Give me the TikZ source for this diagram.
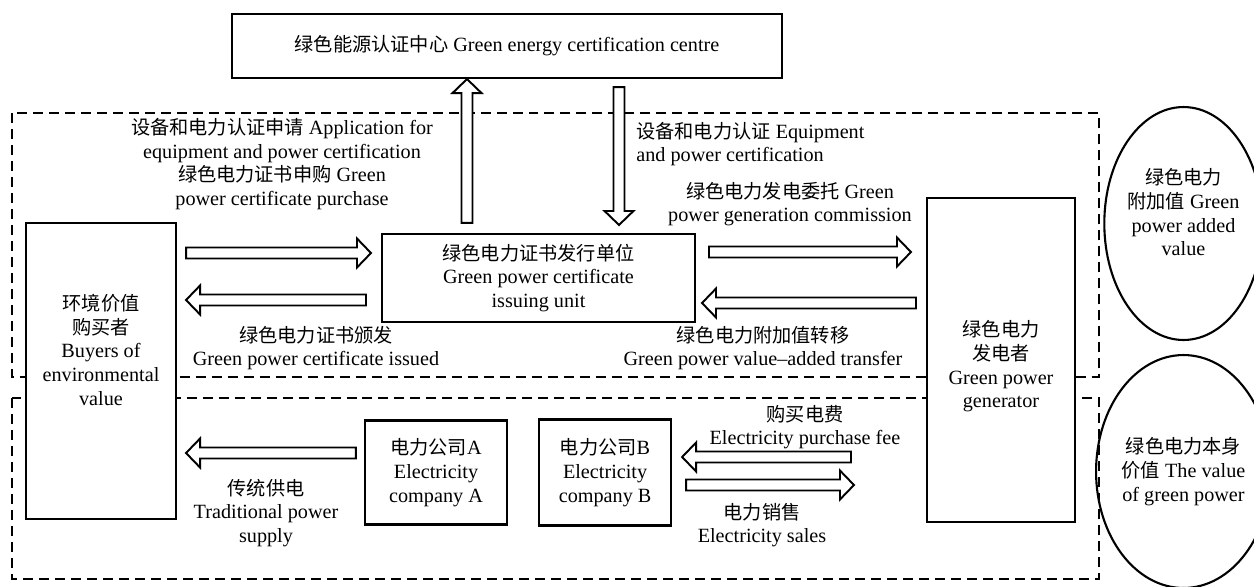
\documentclass[tikz,border=0pt]{standalone}
\usepackage{fontspec}
\setmainfont{Liberation Serif}
\newfontfamily\cjk[Scale=0.95]{Noto Sans CJK SC}
\newcommand{\zh}[1]{{\cjk #1}}
\usetikzlibrary{shapes.geometric,positioning,calc}

\begin{document}
\begin{tikzpicture}[x=0.02cm, y=-0.02cm,
    every node/.style={font=\fontsize{11.5}{13.5}\selectfont},
    box/.style={rectangle, draw, line width=1.2pt, fill=white, align=center, inner sep=2pt},
    valbox/.style={ellipse, draw, line width=1.2pt, align=center, inner sep=0pt,
        minimum width=2.82cm, minimum height=4.66cm},
    lbl/.style={align=center, inner sep=0pt},
    region/.style={line width=1.2pt, dash pattern=on 0.2cm off 0.12cm},
    hollow/.style={draw, line width=1.1pt, fill=white, line join=miter,
        to path={let \p1=(\tikztostart), \p2=(\tikztotarget),
            \p3=($(\p2)!0.28cm!(\p1)$) in
            ($(\p1)!0.11cm!90:(\p2)$) -- ($(\p3)!0.11cm!90:(\p2)$)
            -- ($(\p3)!0.29cm!90:(\p2)$) -- (\p2)
            -- ($(\p3)!0.29cm!-90:(\p2)$) -- ($(\p3)!0.11cm!-90:(\p2)$)
            -- ($(\p1)!0.11cm!-90:(\p2)$) -- cycle}}]

    \useasboundingbox (0,0) rectangle (1254,586);

    %-----Regions-----
    \draw[region] (12,113) rectangle (1099,377);
    \draw[region] (12,398) rectangle (1099,579);

    %-----Boxes-----
    % Certification centre
    \node [box, minimum width=11cm, minimum height=1.28cm] (centre) at (507,46) {%
        \zh{绿色能源认证中心} Green energy certification centre};

    % Buyers of environmental value
    \node [box, minimum width=3cm, minimum height=5.92cm, text depth=0.85cm] (buyer) at (101,371) {%
        \zh{环境价值}\\ \zh{购买者}\\ Buyers of\\ environmental\\ value};

    % Certificate issuing unit
    \node [box, minimum width=6.26cm, minimum height=1.76cm] (issuer) at (538.5,278) {%
        \zh{绿色电力证书发行单位}\\ Green power certificate\\ issuing unit};

    % Green power generator
    \node [box, minimum width=2.96cm, minimum height=6.48cm, text height=2.0cm] (gen) at (1001,360) {%
        \zh{绿色电力}\\ \zh{发电者}\\ Green power\\ generator};

    % Electricity companies
    \node [box, minimum width=2.84cm, minimum height=2.08cm] (compA) at (436,472.5) {%
        \zh{电力公司}A\\ Electricity\\ company A};
    \node [box, minimum width=2.64cm, minimum height=2.12cm, right=0.6cm of compA] (compB) {%
        \zh{电力公司}B\\ Electricity\\ company B};

    % Value ellipses
    \node [valbox, text depth=0.45cm] (addval) at (1183.5,223.5) {%
        \zh{绿色电力}\\ \zh{附加值} Green\\ power added\\ value};
    \node [valbox] (selfval) at (1183.5,471.5) {%
        \zh{绿色电力本身}\\ \zh{价值} The value\\ of green power};

    %-----Arrows-----
    \draw[hollow] ($(issuer.north -| 467,0)+(0,-10)$) to (centre.south -| 467,0);
    \draw[hollow] ($(centre.south -| 619,0)+(0,8)$) to ($(issuer.north -| 619,0)+(0,-8)$);

    \draw[hollow] ($(buyer.east |- 0,253)+(9,0)$) to ($(issuer.west |- 0,253)+(-10,0)$);
    \draw[hollow] ($(issuer.west |- 0,300)+(-15,0)$) to ($(buyer.east |- 0,300)+(9,0)$);

    \draw[hollow] ($(issuer.east |- 0,252)+(13,0)$) to ($(gen.west |- 0,252)+(-15,0)$);
    \draw[hollow] ($(gen.west |- 0,303)+(-10,0)$) to ($(issuer.east |- 0,303)+(6,0)$);

    \draw[hollow] ($(compA.west |- 0,453)+(-8,0)$) to ($(buyer.east |- 0,453)+(9,0)$);
    \draw[hollow] ($(gen.west |- 0,457)+(-75,0)$) to ($(compB.east |- 0,457)+(10,0)$);
    \draw[hollow] ($(compB.east |- 0,485)+(14,0)$) to ($(gen.west |- 0,485)+(-72,0)$);

    %-----Labels-----
    \node [lbl] (applylbl) at (282,164) {%
        \zh{设备和电力认证申请} Application for\\ equipment and power certification\\
        \zh{绿色电力证书申购} Green\\ power certificate purchase};
    \node [lbl, align=left, anchor=west] (equiplbl) at (636,144) {%
        \zh{设备和电力认证} Equipment\\ and power certification};
    \node [lbl] (commlbl) at (790,204) {%
        \zh{绿色电力发电委托} Green\\ power generation commission};
    \node [lbl] (issuedlbl) at (316,348) {%
        \zh{绿色电力证书颁发}\\ Green power certificate issued};
    \node [lbl] (transferlbl) at (763,348) {%
        \zh{绿色电力附加值转移}\\ Green power value--added transfer};
    \node [lbl] (tradlbl) at (266,513) {%
        \zh{传统供电}\\ Traditional power\\ supply};
    \node [lbl] (feelbl) at (805,427) {%
        \zh{购买电费}\\ Electricity purchase fee};
    \node [lbl] (saleslbl) at (762,525) {%
        \zh{电力销售}\\ Electricity sales};

\end{tikzpicture}
\end{document}
